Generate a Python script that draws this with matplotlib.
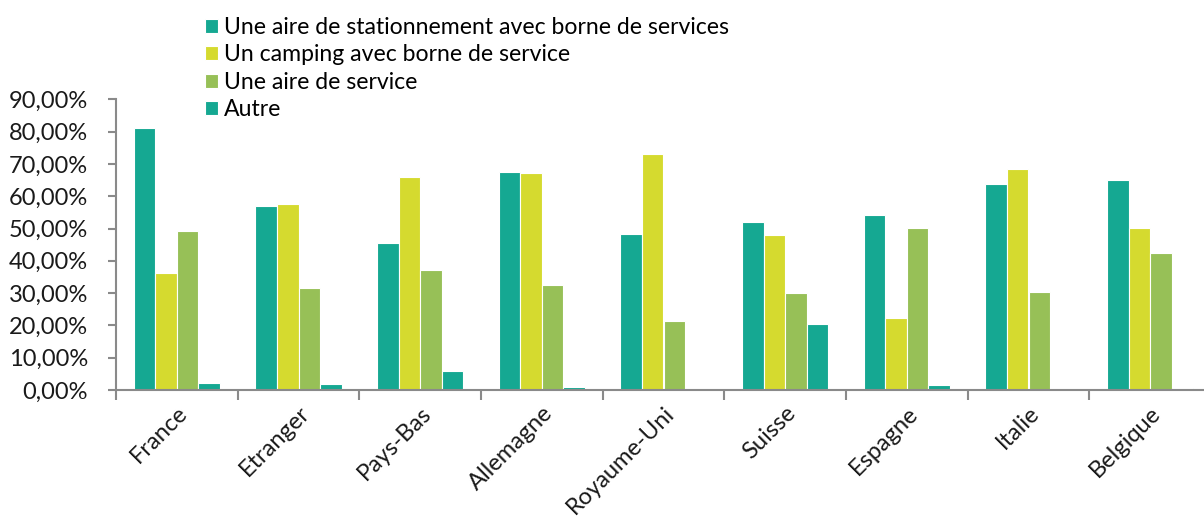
import numpy as np
import matplotlib
matplotlib.use("Agg")
import matplotlib.pyplot as plt
from matplotlib.ticker import FuncFormatter

plt.rcParams['font.family'] = ['Lato', 'DejaVu Sans']

pays = ["France", "Etranger", "Pays-Bas", "Allemagne", "Royaume-Uni",
        "Suisse", "Espagne", "Italie", "Belgique"]
series = ["Une aire de stationnement avec borne de services",
          "Un camping avec borne de service",
          "Une aire de service",
          "Autre"]
aire_stationnement = [81.2, 56.9, 45.6, 67.4, 48.2, 52.0, 54.2, 63.8, 65.1]
camping_borne = [36.2, 57.5, 65.9, 67.1, 73.2, 48.0, 22.2, 68.4, 50.2]
aire_service = [49.3, 31.5, 37.3, 32.6, 21.3, 30.1, 50.1, 30.2, 42.5]
autre = [2.2, 2.0, 5.9, 0.9, 0.4, 20.3, 1.5, 0.0, 0.5]

couleurs = ["#15A892", "#D5DA2F", "#97C057", "#15A892"]

fig = plt.figure(figsize=(12.04, 5.16), dpi=100)
ax = fig.add_axes([116 / 1204, 126 / 516, 1095 / 1204, 290.7 / 516])

x = np.arange(len(pays))
w = 0.178
for i, (vals, nom) in enumerate(zip([aire_stationnement, camping_borne, aire_service, autre], series)):
    ax.bar(x - 1.5 * w + i * w + 0.5, vals, width=w, color=couleurs[i],
           edgecolor="white", linewidth=0.8, label=nom)

ax.set_xlim(0, len(pays))
ax.set_ylim(0, 90)
ax.set_yticks(np.arange(0, 91, 10))
ax.yaxis.set_major_formatter(FuncFormatter(lambda v, p: f"{v:.2f}%".replace(".", ",")))
ax.set_xticks(np.arange(0, len(pays) + 1))
ax.set_xticklabels([])
ax.set_xticks(x + 0.5, minor=True)
ax.set_xticklabels(pays, minor=True, rotation=45, ha="right", rotation_mode="anchor")
ax.tick_params(axis="x", which="minor", length=0, pad=9, labelsize=17, labelcolor="#1a1a1a")
ax.tick_params(axis="x", which="major", length=7, width=1.5, color="#8a8a8a", direction="out")
ax.tick_params(axis="y", length=6, width=1.5, color="#8a8a8a", labelsize=17, labelcolor="#1a1a1a", pad=14)

for s in ["top", "right"]:
    ax.spines[s].set_visible(False)
for s in ["left", "bottom"]:
    ax.spines[s].set_color("#8a8a8a")
    ax.spines[s].set_linewidth(1.5)

fig.legend(loc="upper left", bbox_to_anchor=(196 / 1204, 1 - 8 / 516), frameon=False,
           fontsize=16.6, handlelength=0.56, handleheight=0.56, handletextpad=0.25,
           labelspacing=0.27, borderaxespad=0)

fig.savefig("out.png", dpi=100)
